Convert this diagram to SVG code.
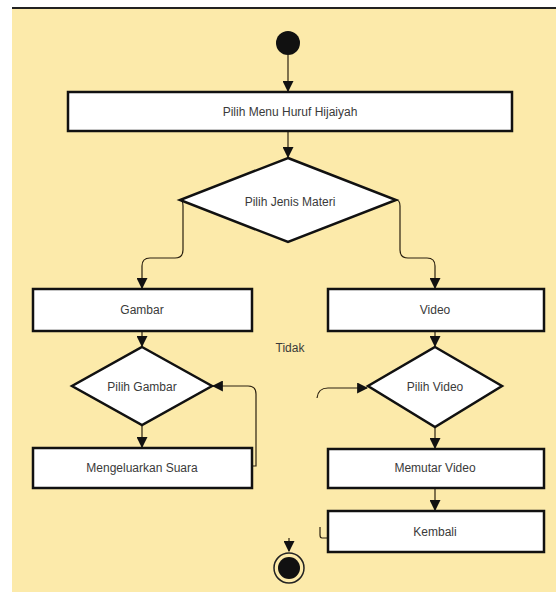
<svg xmlns="http://www.w3.org/2000/svg" width="556" height="595" viewBox="0 0 556 595">
<style>
.box{fill:#fff;stroke:#111;stroke-width:2.5}
.lbl{font-family:"Liberation Sans",Arial,sans-serif;font-size:12px;fill:#3a3a3a;text-anchor:middle;dominant-baseline:central}
.c{fill:none;stroke:#2a2010;stroke-width:1.2}
</style>
<defs>
<marker id="ah" viewBox="0 0 10 10" refX="9" refY="5" markerWidth="11" markerHeight="11" markerUnits="userSpaceOnUse" orient="auto">
<path d="M0,0 L10,5 L0,10 Z" fill="#111"/>
</marker>
</defs>
<rect x="0" y="0" width="556" height="595" fill="#fff"/>
<rect x="12" y="8" width="544" height="584" fill="#FCEAAA"/>
<line x1="12" y1="8" x2="556" y2="8" stroke="#222" stroke-width="2"/>

<g id="connectors">
<path class="c" d="M288,55 L288,91" marker-end="url(#ah)"/>
<path class="c" d="M288,131 L288,157" marker-end="url(#ah)"/>
<path class="c" d="M180,200 Q183,200 183,206 L183,250 Q183,258 175,258 L150,258 Q142,258 142,266 L142,288" marker-end="url(#ah)"/>
<path class="c" d="M396,200 Q400,200 400,206 L400,250 Q400,258 408,258 L427,258 Q435,258 435,266 L435,288" marker-end="url(#ah)"/>
<path class="c" d="M142,331 L142,346" marker-end="url(#ah)"/>
<path class="c" d="M435,331 L435,346" marker-end="url(#ah)"/>
<path class="c" d="M142,425 L142,447" marker-end="url(#ah)"/>
<path class="c" d="M252,466 L256,466 L256,394 Q256,386 248,386 L213,386" marker-end="url(#ah)"/>
<path class="c" d="M317,398 Q318,388 328,388 L367,388" marker-end="url(#ah)"/>
<path class="c" d="M435,427 L435,448" marker-end="url(#ah)"/>
<path class="c" d="M435,488 L435,510" marker-end="url(#ah)"/>
<path class="c" d="M328,538 L322,538 Q320,538 320,535 L320,527"/>
<path class="c" d="M289,538 L289,551" marker-end="url(#ah)"/>
</g>

<g id="start"><circle cx="288" cy="43" r="12" fill="#111"/></g>

<g id="pilih-menu"><rect class="box" x="68" y="92" width="444" height="39"/><text class="lbl" x="290" y="112">Pilih Menu Huruf Hijaiyah</text></g>

<g id="pilih-jenis"><polygon class="box" points="288,158 396,200 288,242 180,200"/><text class="lbl" x="290" y="202">Pilih Jenis Materi</text></g>

<g id="gambar"><rect class="box" x="33" y="289" width="219" height="42"/><text class="lbl" x="142" y="310">Gambar</text></g>

<g id="video"><rect class="box" x="328" y="289" width="216" height="42"/><text class="lbl" x="435" y="310">Video</text></g>

<g id="tidak"><text class="lbl" x="290" y="348">Tidak</text></g>

<g id="pilih-gambar"><polygon class="box" points="142,347 212,386 142,425 72,386"/><text class="lbl" x="142" y="387">Pilih Gambar</text></g>

<g id="pilih-video"><polygon class="box" points="435,347 502,386 435,427 368,386"/><text class="lbl" x="435" y="387">Pilih Video</text></g>

<g id="suara"><rect class="box" x="33" y="448" width="219" height="40"/><text class="lbl" x="142" y="468">Mengeluarkan Suara</text></g>

<g id="memutar"><rect class="box" x="328" y="449" width="216" height="39"/><text class="lbl" x="435" y="468">Memutar Video</text></g>

<g id="kembali"><rect class="box" x="328" y="511" width="216" height="41"/><text class="lbl" x="435" y="532">Kembali</text></g>

<g id="end"><circle cx="289" cy="568" r="15" fill="#FCEAAA" stroke="#222" stroke-width="1.5"/><circle cx="289" cy="568" r="11" fill="#111"/></g>
</svg>
